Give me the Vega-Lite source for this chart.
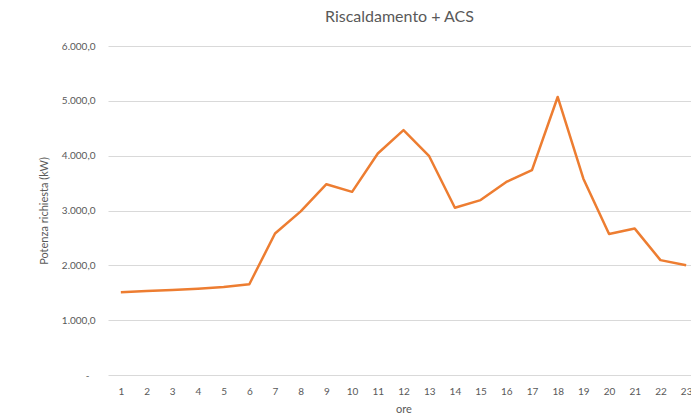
{
  "$schema": "https://vega.github.io/schema/vega-lite/v6.json",
  "autosize": {"type": "none"},
  "padding": {"left": 108, "top": 46, "right": 0, "bottom": 44},
  "width": 583,
  "height": 329,
  "background": "white",
  "config": {
    "locale": {"number": {"decimal": ",", "thousands": ".", "grouping": [3], "currency": ["€", ""]}},
    "view": {"stroke": null},
    "font": "Lato"
  },
  "title": {
    "text": "Riscaldamento + ACS",
    "fontSize": 16,
    "fontWeight": "normal",
    "color": "#595959",
    "font": "Lato",
    "anchor": "middle",
    "frame": "group",
    "offset": 16
  },
  "data": {
    "values": [
      {"ore": 1, "potenza": 1510},
      {"ore": 2, "potenza": 1530},
      {"ore": 3, "potenza": 1550},
      {"ore": 4, "potenza": 1575},
      {"ore": 5, "potenza": 1605},
      {"ore": 6, "potenza": 1655},
      {"ore": 7, "potenza": 2580},
      {"ore": 8, "potenza": 2985},
      {"ore": 9, "potenza": 3480},
      {"ore": 10, "potenza": 3340},
      {"ore": 11, "potenza": 4040},
      {"ore": 12, "potenza": 4465},
      {"ore": 13, "potenza": 3990},
      {"ore": 14, "potenza": 3050},
      {"ore": 15, "potenza": 3190},
      {"ore": 16, "potenza": 3520},
      {"ore": 17, "potenza": 3735},
      {"ore": 18, "potenza": 5070},
      {"ore": 19, "potenza": 3580},
      {"ore": 20, "potenza": 2570},
      {"ore": 21, "potenza": 2670},
      {"ore": 22, "potenza": 2095},
      {"ore": 23, "potenza": 2000}
    ]
  },
  "mark": {"type": "line", "color": "#ED7D31", "strokeWidth": 2.5, "strokeJoin": "round"},
  "encoding": {
    "x": {
      "field": "ore",
      "type": "ordinal",
      "sort": null,
      "scale": {"range": [0, 591], "padding": 0.5},
      "axis": {
        "title": "ore",
        "titleFont": "Lato",
        "titleFontSize": 11,
        "titleFontWeight": "normal",
        "titleColor": "#595959",
        "titlePadding": 7,
        "labelAngle": 0,
        "labelFont": "Lato",
        "labelFontSize": 10,
        "labelColor": "#595959",
        "labelPadding": 11,
        "ticks": false,
        "domain": false,
        "grid": false
      }
    },
    "y": {
      "field": "potenza",
      "type": "quantitative",
      "scale": {"domain": [0, 6000], "nice": false},
      "axis": {
        "title": "Potenza richiesta (kW)",
        "titleFont": "Lato",
        "titleFontSize": 11,
        "titleFontWeight": "normal",
        "titleColor": "#595959",
        "titlePadding": 12,
        "values": [0, 1000, 2000, 3000, 4000, 5000, 6000],
        "labelExpr": "datum.value == 0 ? '-' : format(datum.value, ',.1f')",
        "labelFont": "Lato",
        "labelFontSize": 10,
        "labelColor": "#595959",
        "labelPadding": {"condition": {"test": "datum.value == 0", "value": 19}, "value": 13},
        "ticks": false,
        "domain": false,
        "grid": true,
        "gridColor": "#d9d9d9",
        "gridWidth": 1
      }
    }
  }
}
